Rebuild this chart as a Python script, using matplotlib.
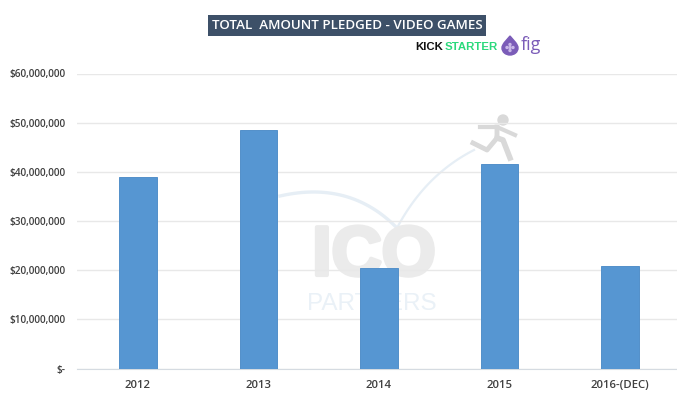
import numpy as np
from matplotlib import pyplot as plt
from matplotlib import patheffects
from matplotlib.patches import Circle, Ellipse, Polygon

years = ['2012', '2013', '2014', '2015', '2016-(DEC)']
pledged = [39000000, 48500000, 20500000, 41500000, 20800000]
yticks = [0, 10000000, 20000000, 30000000, 40000000, 50000000, 60000000]
ylabels = ['$-', '$10,000,000', '$20,000,000', '$30,000,000',
           '$40,000,000', '$50,000,000', '$60,000,000']

W, H = 677, 396
plt.rcParams['font.family'] = ['Open Sans', 'DejaVu Sans']

fig = plt.figure(figsize=(W / 100, H / 100), dpi=100)

# overlay in pixel coords for the watermark, sits under the chart
bg = fig.add_axes([0, 0, 1, 1], zorder=0)
bg.set_xlim(0, W)
bg.set_ylim(H, 0)
bg.axis('off')

# jump curve
t = np.linspace(0, 1, 40)
cx = (1 - t)**2 * 280 + 2 * t * (1 - t) * 350 + t**2 * 397
cy = (1 - t)**2 * 196 + 2 * t * (1 - t) * 180 + t**2 * 228
bg.plot(cx, cy, color='#e6eef5', lw=2.4, zorder=1)
cx = (1 - t)**2 * 397 + 2 * t * (1 - t) * 425 + t**2 * 474
cy = (1 - t)**2 * 228 + 2 * t * (1 - t) * 175 + t**2 * 150
bg.plot(cx, cy, color='#e6eef5', lw=1.6, zorder=1)

ico = bg.text(374, 257, 'ICO', fontsize=50, fontweight='bold', color='#ebebeb',
              ha='center', va='center', family='Liberation Sans')
ico.set_path_effects([patheffects.withStroke(linewidth=3, foreground='#ebebeb')])
bg.text(372, 304, 'PARTNERS', fontsize=17.5, color='#eaf1f7',
        ha='center', va='center', family='Liberation Sans')

# running man
man = '#d9d9d9'
bg.add_patch(Circle((503, 120), 5, color=man, zorder=5))
bg.plot([473, 487, 497, 497], [143, 150, 138, 127], color=man, lw=3.5, zorder=5)
bg.plot([480, 497, 515], [127, 127, 135], color=man, lw=3, zorder=5)
bg.plot([497, 503, 510], [138, 140, 158], color=man, lw=4, zorder=5)

ax = fig.add_axes([77 / W, 1 - 368.5 / H, 600 / W, (368.5 - 73.5) / H], zorder=1)
ax.patch.set_alpha(0)

x = np.arange(len(years))
ax.bar(x, pledged, width=0.31, color='#5696d2', edgecolor='#5390ca', linewidth=0.7, zorder=3)

ax.set_xlim(-0.506, 4.473)
ax.set_ylim(0, 60000000)
ax.set_xticks(x)
ax.set_xticklabels(years, fontweight='semibold')
ax.set_yticks(yticks)
ax.set_yticklabels(ylabels, fontweight='semibold')
ax.tick_params(axis='both', length=0, labelsize=7.2, labelcolor='#404040')
ax.tick_params(axis='x', pad=8, labelsize=8.2)
ax.tick_params(axis='y', pad=8)
ax.yaxis.grid(True, color='#e8e8e8', lw=1)
ax.set_axisbelow(True)
for s in ['top', 'left', 'right']:
    ax.spines[s].set_visible(False)
ax.spines['bottom'].set_color('#d5dbe1')

# title banner and logos
fg = fig.add_axes([0, 0, 1, 1], zorder=2)
fg.set_xlim(0, W)
fg.set_ylim(H, 0)
fg.axis('off')
fg.text(347, 25.5, 'TOTAL  AMOUNT PLEDGED - VIDEO GAMES', fontsize=9.6, color='white',
        ha='center', va='center', fontweight='semibold',
        bbox=dict(boxstyle='square,pad=0.3', fc='#3d5068', ec='none'))
fg.text(415, 47.5, 'KICK', fontsize=8.2, fontweight='black', color='#111111',
        va='center', family='Liberation Sans')
fg.text(444.5, 47.5, 'STARTER', fontsize=8.2, fontweight='bold', color='#2bd97c',
        va='center', family='Liberation Sans')
fg.add_patch(Ellipse((510, 48), 16, 14, color='#7b5cb8'))
fg.add_patch(Polygon([[504, 43], [510, 36], [516, 43]], color='#7b5cb8'))
for dx, dy in [(-3, 0), (0, -3), (3, 0), (0, 3), (0, 0)]:
    fg.add_patch(Circle((510 + dx, 47.5 + dy), 1, color='#c9b8e8'))
fg.text(521, 45.5, 'fig', fontsize=13, color='#7b5cb8', va='center')

fig.savefig('out.png', dpi=100)
